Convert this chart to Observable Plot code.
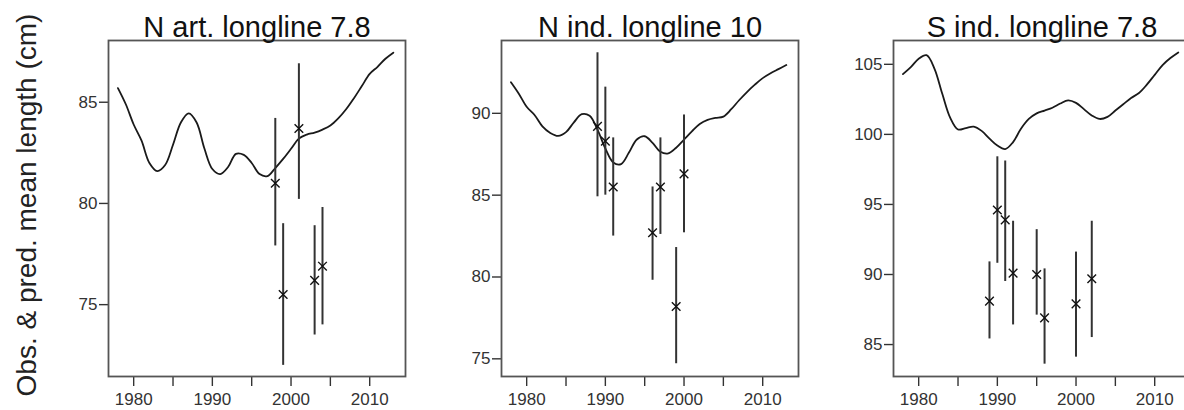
<!DOCTYPE html>
<html>
<head>
<meta charset="utf-8">
<script src="https://cdn.jsdelivr.net/npm/d3@7"></script>
<script src="https://cdn.jsdelivr.net/npm/@observablehq/plot@0.6"></script>
<style>
  html, body { margin: 0; padding: 0; background: #fff; }
  #wrap { position: relative; width: 1184px; height: 410px; overflow: hidden; font-family: "Liberation Sans", Arial, sans-serif; }
  .panel { position: absolute; top: 0; }
  #ylab { position: absolute; left: -183px; top: 190px; width: 420px; height: 30px; line-height: 30px;
          font-size: 28px; text-align: center; color: #222; transform: rotate(-90deg); white-space: nowrap; }
</style>
</head>
<body>
<div id="wrap">
  <div id="ylab">Obs. &amp; pred. mean length (cm)</div>
</div>
<script>
// ---- data ----
const years = [1978,1979,1980,1981,1982,1983,1984,1985,1986,1987,1988,1989,1990,1991,1992,1993,1994,1995,
               1996,1997,1998,1999,2000,2001,2002,2003,2004,2005,2006,2007,2008,2009,2010,2011,2012,2013];
const titles = ["N art. longline 7.8", "N ind. longline 10", "S ind. longline 7.8"];

const predNart = [85.7,84.9,83.9,83.1,82.0,81.6,81.9,82.9,84.0,84.45,84.0,82.7,81.7,81.45,81.8,82.45,82.4,82.0,
                  81.45,81.35,81.75,82.2,82.7,83.2,83.4,83.5,83.65,83.85,84.2,84.65,85.2,85.8,86.4,86.75,87.15,87.45];
const predNind = [91.9,91.2,90.4,89.9,89.2,88.8,88.62,88.85,89.45,89.95,89.85,89.0,87.85,87.0,86.9,87.6,88.4,88.6,
                  88.2,87.65,87.55,87.9,88.4,88.9,89.35,89.6,89.72,89.8,90.25,90.8,91.3,91.75,92.15,92.45,92.7,92.95];
const predSind = [104.3,104.8,105.4,105.65,104.7,102.9,101.2,100.35,100.45,100.55,100.25,99.7,99.2,98.95,99.45,100.4,101.1,101.5,
                  101.7,101.9,102.2,102.43,102.25,101.8,101.35,101.1,101.25,101.7,102.15,102.6,102.95,103.55,104.25,104.95,105.45,105.85];

const obsYearsNart = [1998,1999,2001,2003,2004];
const obsNart      = [81.0,75.5,83.7,76.2,76.9];
const loNart       = [77.9,72.0,80.2,73.5,74.0];
const hiNart       = [84.2,79.0,86.9,78.9,79.8];

const obsYearsNind = [1989,1990,1991,1996,1997,1999,2000];
const obsNind      = [89.2,88.3,85.5,82.7,85.5,78.2,86.3];
const loNind       = [84.9,85.0,82.5,79.8,82.6,74.7,82.7];
const hiNind       = [93.7,91.6,88.5,85.5,88.5,81.8,89.9];

const obsYearsSind = [1989,1990,1991,1992,1995,1996,2000,2002];
const obsSind      = [88.1,94.6,93.9,90.1,90.0,86.9,87.9,89.7];
const loSind       = [85.4,90.8,89.5,86.4,87.1,83.6,84.1,85.5];
const hiSind       = [90.9,98.4,98.1,93.8,93.2,90.4,91.6,93.8];

const xTicks = [1980,1985,1990,1995,2000,2005,2010];
const yTicksNart = [75,80,85];
const yTicksNind = [75,80,85,90];
const yTicksSind = [85,90,95,100,105];

// ---- layout ----
const panels = [
  {title: titles[0], pred: predNart, oy: obsYearsNart, ov: obsNart, lo: loNart, hi: hiNart, yt: yTicksNart, yd: [71.45, 88.05], left: 108},
  {title: titles[1], pred: predNind, oy: obsYearsNind, ov: obsNind, lo: loNind, hi: hiNind, yt: yTicksNind, yd: [73.92, 94.45], left: 501},
  {title: titles[2], pred: predSind, oy: obsYearsSind, ov: obsSind, lo: loSind, hi: hiSind, yt: yTicksSind, yd: [82.72, 106.7], left: 893}
];

const mL = 60, mR = 10, boxW = 297;
const wrap = document.getElementById("wrap");

for (const p of panels) {
  const line = years.map((y, i) => ({year: y, value: p.pred[i]}));
  const obs = p.oy.map((y, i) => ({year: y, value: p.ov[i], lo: p.lo[i], hi: p.hi[i]}));
  const chart = Plot.plot({
    width: mL + boxW + mR,
    height: 410,
    marginLeft: mL,
    marginRight: mR,
    marginTop: 40,
    marginBottom: 34,
    style: {fontFamily: "'Liberation Sans', Arial, sans-serif", fontSize: "17px", color: "#333", background: "transparent", overflow: "visible"},
    x: {domain: [1976.8, 2014.55]},
    y: {domain: p.yd},
    marks: [
      Plot.axisX({ticks: xTicks, tickFormat: d => (d % 10 === 0 ? String(d) : ""), tickSize: 10, tickPadding: 6,
                  label: null, stroke: "#333", strokeWidth: 1.4}),
      Plot.axisY({ticks: p.yt, tickFormat: d => String(d), tickSize: 9, tickPadding: 2,
                  label: null, stroke: "#333", strokeWidth: 1.4}),
      Plot.line(line, {x: "year", y: "value", stroke: "#1a1a1a", strokeWidth: 1.8, curve: "catmull-rom"}),
      Plot.ruleX(obs, {x: "year", y1: "lo", y2: "hi", stroke: "#333", strokeWidth: 2}),
      Plot.dot(obs, {x: "year", y: "value", symbol: "times", r: 4, stroke: "#111", strokeWidth: 1.4}),
      Plot.frame({stroke: "#555", strokeWidth: 1.8}),
      Plot.text([p.title], {frameAnchor: "top", lineAnchor: "middle", dy: -13, fontSize: 29, fill: "#111"})
    ]
  });
  chart.classList.add("panel");
  chart.style.left = (p.left - mL) + "px";
  wrap.appendChild(chart);
}
</script>
</body>
</html>
